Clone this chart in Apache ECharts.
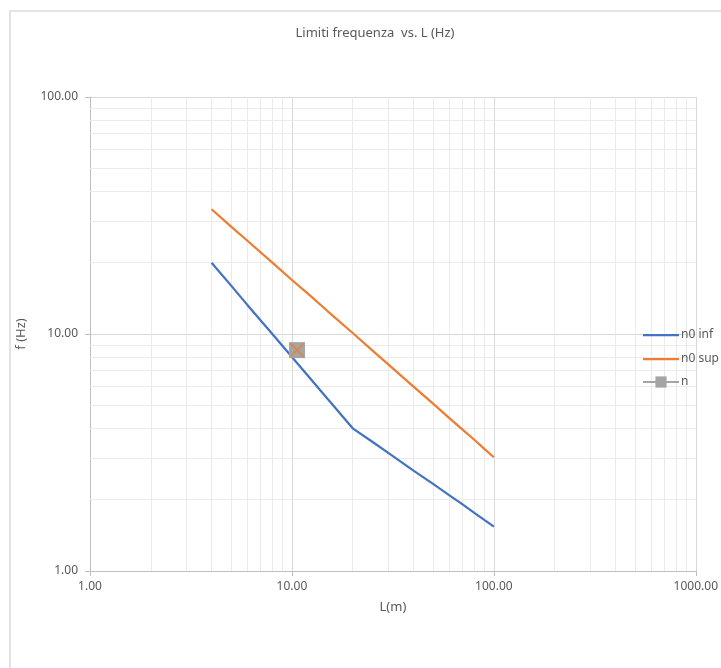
<!DOCTYPE html>
<html>
<head>
<meta charset="utf-8">
<script src="https://cdn.jsdelivr.net/npm/echarts@6/dist/echarts.min.js"></script>
<style>
  body { margin: 0; background: #fff; }
  #wrap { position: relative; width: 721px; height: 668px; overflow: hidden; }
  #frame { position: absolute; left: 9px; top: 10px; right: -5px; bottom: -5px;
           border-left: 2px solid #e3e3e3; border-top: 2px solid #e3e3e3; }
  #chart { position: absolute; left: 0; top: 0; width: 721px; height: 668px; }
</style>
</head>
<body>
<div id="wrap">
  <div id="frame"></div>
  <div id="chart"></div>
</div>
<script>
// L (m)
var lengths = [4, 5, 6, 8, 10, 12, 15, 20, 25, 30, 40, 50, 60, 70, 80, 90, 100];
// limite inferiore frequenza (Hz)
var n0Inf = [20.0, 16.0, 13.3, 10.0, 8.0, 6.67, 5.33, 4.0, 3.51, 3.15, 2.65, 2.33, 2.09, 1.91, 1.76, 1.64, 1.54];
// limite superiore frequenza (Hz)
var n0Sup = [33.6, 28.4, 24.8, 20.0, 16.9, 14.8, 12.5, 10.1, 8.53, 7.44, 6.00, 5.08, 4.43, 3.95, 3.58, 3.27, 3.02];
// punto n [L, f]
var nPoint = [10.6, 8.55];
// griglia secondaria
var xMinor = [2, 3, 4, 5, 6, 7, 8, 9, 20, 30, 40, 50, 60, 70, 80, 90, 200, 300, 400, 500, 600, 700, 800, 900];
var yMinor = [2, 3, 4, 5, 6, 7, 8, 9, 20, 30, 40, 50, 60, 70, 80, 90];

var grey = '#595959';
var chart = echarts.init(document.getElementById('chart'));

function pairs(xs, ys) {
  return xs.map(function (x, i) { return [x, ys[i]]; });
}

// icona legenda: linea sottile (angoli minuscoli per fissare il riquadro 36x14)
var lineIcon = 'path://M0,0L0.01,0L0,0.01Z M0,6H36V8.2H0Z M36,14L35.99,14L36,13.99Z';

var minorLines = [];
xMinor.forEach(function (v) { minorLines.push({ xAxis: v }); });
yMinor.forEach(function (v) { minorLines.push({ yAxis: v }); });

var option = {
  animation: false,
  textStyle: { fontFamily: 'Noto Sans', color: grey },
  title: {
    text: 'Limiti frequenza  vs. L (Hz)',
    left: 370, top: 22, textAlign: 'center',
    textStyle: { fontSize: 13, fontWeight: 'normal', color: grey }
  },
  grid: { left: 90, top: 97, right: 24, bottom: 97 },
  legend: {
    orient: 'vertical', left: 637, top: 323,
    itemWidth: 36, itemHeight: 14, itemGap: 10,
    textStyle: { fontSize: 12, color: grey, padding: [0, 0, 0, -3] },
    data: [
      { name: 'n0 inf', icon: lineIcon },
      { name: 'n0 sup', icon: lineIcon },
      { name: 'n' }
    ]
  },
  xAxis: {
    type: 'log', logBase: 10, min: 1, max: 1000,
    name: 'L(m)', nameLocation: 'middle', nameGap: 30,
    nameTextStyle: { fontSize: 13, color: grey },
    axisLine: { lineStyle: { color: '#bfbfbf' } },
    axisTick: { length: 5, lineStyle: { color: '#bfbfbf' } },
    axisLabel: { fontSize: 12, color: grey, margin: 10,
      formatter: function (v) { return v.toFixed(2); } },
    splitLine: { show: true, lineStyle: { color: '#d9d9d9' } }
  },
  yAxis: {
    type: 'log', logBase: 10, min: 1, max: 100,
    name: 'f (Hz)', nameLocation: 'middle', nameGap: 62, nameRotate: 90,
    nameTextStyle: { fontSize: 13, color: grey },
    axisLine: { show: true, lineStyle: { color: '#bfbfbf' } },
    axisTick: { show: true, length: 5, lineStyle: { color: '#bfbfbf' } },
    axisLabel: { fontSize: 12, color: grey, margin: 12,
      formatter: function (v) { return v.toFixed(2); } },
    splitLine: { show: true, lineStyle: { color: '#d9d9d9' } }
  },
  series: [
    {
      name: 'griglia', type: 'line', data: [], z: 1, silent: true,
      markLine: {
        z: 1, silent: true, symbol: 'none', label: { show: false },
        lineStyle: { color: '#ebebeb', width: 1, type: 'solid' },
        data: minorLines
      }
    },
    {
      name: 'n0 inf', type: 'line', symbol: 'none', z: 3,
      data: pairs(lengths, n0Inf),
      lineStyle: { color: '#4472c4', width: 2.25 }, itemStyle: { color: '#4472c4' }
    },
    {
      name: 'n0 sup', type: 'line', symbol: 'none', z: 3,
      data: pairs(lengths, n0Sup),
      lineStyle: { color: '#ed7d31', width: 2.25 }, itemStyle: { color: '#ed7d31' }
    },
    {
      name: 'n', type: 'line', symbol: 'rect', symbolSize: 16, z: 4,
      data: [nPoint],
      lineStyle: { color: '#a5a5a5', width: 2.25 }, itemStyle: { color: '#a5a5a5' }
    },
    {
      name: 'n', type: 'scatter', z: 5,
      symbol: 'path://M0,0L10,10M10,0L0,10', symbolSize: 14,
      data: [nPoint],
      itemStyle: { color: 'rgba(0,0,0,0)', borderColor: '#ed7d31', borderWidth: 1.5 }
    }
  ]
};
chart.setOption(option);
</script>
</body>
</html>
